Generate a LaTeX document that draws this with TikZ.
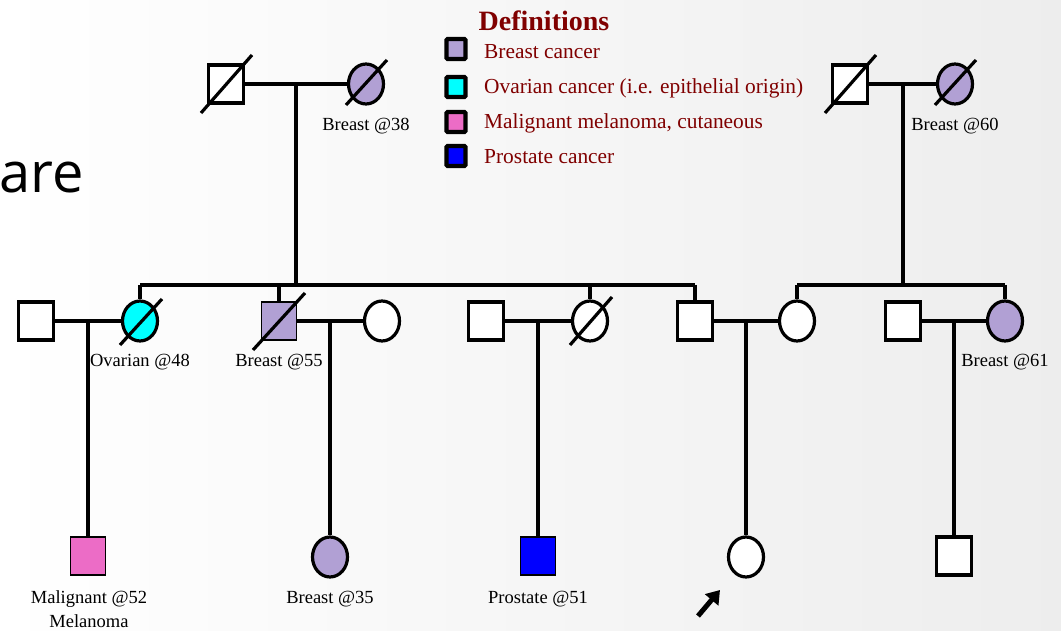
\documentclass[tikz,border=0pt]{standalone}
\usepackage{fontspec}
\setmainfont{Liberation Serif}
\newfontfamily\slidefont{Open Sans}
\usetikzlibrary{shapes.geometric,arrows.meta}
\definecolor{breast}{RGB}{177,160,212}
\definecolor{ovar}{RGB}{0,255,255}
\definecolor{melan}{RGB}{236,108,198}
\definecolor{prost}{RGB}{0,0,255}
\definecolor{legred}{RGB}{128,0,0}
\tikzset{
  male/.style={rectangle,draw,line width=3.2pt,minimum width=35pt,minimum height=38pt,inner sep=0pt,fill=white},
  thinmale/.style={male,line width=1.6pt},
  female/.style={ellipse,draw,line width=3.2pt,minimum width=35pt,minimum height=40pt,inner sep=0pt,fill=white},
  link/.style={line width=3.2pt},
  dead/.style={line width=3.2pt},
  lbl/.style={font=\fontsize{18.5}{21}\selectfont,inner sep=0pt},
  legbox/.style={rectangle,draw,line width=4.2pt,minimum width=19pt,minimum height=20pt,inner sep=0pt,rounded corners=1pt},
  legtxt/.style={font=\fontsize{21.4}{24}\selectfont,text=legred,inner sep=0pt,anchor=west}
}
\begin{document}
\begin{tikzpicture}[x=1pt,y=-1pt]
\useasboundingbox (0,0) rectangle (1061,631);
\shade[left color=white,middle color=white,right color=black!7] (0,0) rectangle (1061,631);

% slide text fragment
\node[font=\slidefont\fontsize{56}{60}\selectfont,anchor=base west,inner sep=0pt] (are) at (-1,193) {are};

% legend
\node[font=\bfseries\fontsize{28}{30}\selectfont,text=legred,inner sep=0pt] (deftitle) at (544,21) {Definitions};
\node[legbox,fill=breast] (kb) at (456,49) {};
\node[legbox,fill=ovar] (ko) at (456,87) {};
\node[legbox,fill=melan] (km) at (456,122) {};
\node[legbox,fill=prost] (kp) at (456,156) {};
\node[legtxt] (tb) at (484,52) {Breast cancer};
\node[legtxt] (to) at (484,88) {Ovarian cancer (i.e. epithelial origin)};
\node[legtxt] (tm) at (484,123) {Malignant melanoma, cutaneous};
\node[legtxt] (tp) at (484,157) {Prostate cancer};

% generation 1
\node[male] (g1m) at (226,84) {};
\node[female,fill=breast] (g1f) at (366,84) {};
\node[male] (g1rm) at (850,84) {};
\node[female,fill=breast] (g1rf) at (955,84) {};
\coordinate (d1) at (296,84);
\coordinate (s1) at (296,285);
\coordinate (d2) at (903,84);
\coordinate (s2) at (903,285);

% generation 2
\node[male] (a1) at (36,321) {};
\node[female,fill=ovar] (a2) at (140,321) {};
\node[thinmale,fill=breast] (a3) at (279,321) {};
\node[female] (a4) at (382,321) {};
\node[male] (a5) at (486,321) {};
\node[female] (a6) at (590,321) {};
\node[male] (a7) at (695,321) {};
\node[female] (a8) at (797,321) {};
\node[male] (a9) at (903,321) {};
\node[female,fill=breast] (a10) at (1005,321) {};
\coordinate (k1) at (88,321);
\coordinate (k2) at (330,321);
\coordinate (k3) at (538,321);
\coordinate (k4) at (746,321);
\coordinate (k5) at (954,321);

% generation 3
\node[thinmale,fill=melan] (c1) at (88,556) {};
\node[female,fill=breast] (c2) at (330,557) {};
\node[thinmale,fill=prost] (c3) at (538,556) {};
\node[female] (c4) at (746,557) {};
\node[male] (c5) at (954,556) {};

% connectors
\draw[link] (g1m) -- (g1f);
\draw[link] (g1rm) -- (g1rf);
\draw[link] (d1) -- (s1);
\draw[link] (d2) -- (s2);
\draw[link] (a2.north |- s1) -- (a7.north |- s1);
\draw[link] (a2.north |- s1) -- (a2.north);
\draw[link] (a3.north |- s1) -- (a3.north);
\draw[link] (a6.north |- s1) -- (a6.north);
\draw[link] (a7.north |- s1) -- (a7.north);
\draw[link] (a8.north |- s2) -- (a10.north |- s2);
\draw[link] (a8.north |- s2) -- (a8.north);
\draw[link] (a10.north |- s2) -- (a10.north);
\draw[link] (a1) -- (a2);
\draw[link] (a3) -- (a4);
\draw[link] (a5) -- (a6);
\draw[link] (a7) -- (a8);
\draw[link] (a9) -- (a10);
\draw[link] (k1) -- (c1);
\draw[link] (k2) -- (c2);
\draw[link] (k3) -- (c3);
\draw[link] (k4) -- (c4);
\draw[link] (k5) -- (c5);

% deceased slashes
\draw[dead] ([shift={(-25,29)}]g1m.center) -- ([shift={(26,-29)}]g1m.center);
\draw[dead] ([shift={(-20,21)}]g1f.center) -- ([shift={(21,-24)}]g1f.center);
\draw[dead] ([shift={(-25,29)}]g1rm.center) -- ([shift={(26,-29)}]g1rm.center);
\draw[dead] ([shift={(-20,21)}]g1rf.center) -- ([shift={(21,-24)}]g1rf.center);
\draw[dead] ([shift={(-20,24)}]a2.center) -- ([shift={(22,-22)}]a2.center);
\draw[dead] ([shift={(-26,29)}]a3.center) -- ([shift={(26,-28)}]a3.center);
\draw[dead] ([shift={(-20,24)}]a6.center) -- ([shift={(22,-24)}]a6.center);

% labels
\node[lbl] (l1) at (366,126) {Breast @38};
\node[lbl] (l2) at (955,126) {Breast @60};
\node[lbl] (l3) at (140,362) {Ovarian @48};
\node[lbl] (l4) at (279,362) {Breast @55};
\node[lbl] (l5) at (1005,362) {Breast @61};
\node[lbl] (l6) at (89,599) {Malignant @52};
\node[lbl] (l7) at (89,621) {Melanoma};
\node[lbl] (l8) at (330,599) {Breast @35};
\node[lbl] (l9) at (538,599) {Prostate @51};

% proband arrow
\coordinate (p1) at (698,616);
\coordinate (p2) at (720,590);
\draw[line width=5pt,-{Triangle[length=13pt,width=17pt]}] (p1) -- (p2);
\end{tikzpicture}
\end{document}
